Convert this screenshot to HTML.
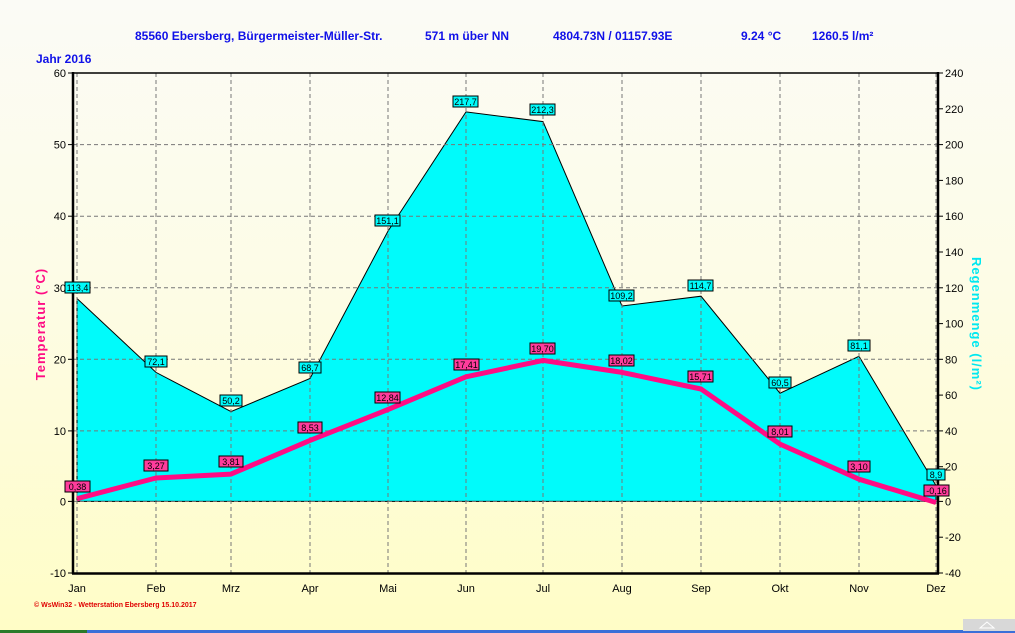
<!DOCTYPE html>
<html><head><meta charset="utf-8"><style>
html,body{margin:0;padding:0;width:1015px;height:633px;overflow:hidden;background:#fffdd0}
svg{display:block;font-family:"Liberation Sans",sans-serif}
</style></head><body>
<svg width="1015" height="633" viewBox="0 0 1015 633">
<defs>
<linearGradient id="bg" x1="0" y1="0" x2="0" y2="1">
<stop offset="0" stop-color="#fbfbf6"/><stop offset="0.45" stop-color="#fdfce6"/><stop offset="1" stop-color="#fffdc6"/>
</linearGradient>
</defs>
<rect width="1015" height="633" fill="url(#bg)"/>
<rect x="0" y="630" width="1015" height="3" fill="#3a6fd8"/>
<rect x="0" y="630" width="87" height="3" fill="#2a7a2a"/>
<rect x="963" y="619" width="52" height="12" fill="#d8d8d8"/>
<polygon points="980,628 987,622 994,628" fill="none" stroke="#fff"/>
<g font-weight="bold" font-size="12" fill="#1010e8">
<text x="135" y="40">85560 Ebersberg, Bürgermeister-Müller-Str.</text>
<text x="425" y="40">571 m über NN</text>
<text x="553" y="40">4804.73N / 01157.93E</text>
<text x="741" y="40">9.24 °C</text>
<text x="812" y="40">1260.5 l/m²</text>
<text x="36" y="63">Jahr  2016</text>
</g>
<!-- rain area -->
<polygon fill="#00fbfb" stroke="#000" stroke-width="1" points="77,501.4 77,298.5 156,372.4 231,411.6 310,378.5 388,231.1 466,111.9 543,121.6 622,306 701,296.2 780,393.2 859,356.3 936,485.5 936,501.4"/>
<!-- grid -->
<g stroke="#777" stroke-dasharray="4,3" stroke-width="1">
<line x1="77" y1="73" x2="77" y2="573"/><line x1="156" y1="73" x2="156" y2="573"/><line x1="231" y1="73" x2="231" y2="573"/><line x1="310" y1="73" x2="310" y2="573"/><line x1="388" y1="73" x2="388" y2="573"/><line x1="466" y1="73" x2="466" y2="573"/><line x1="543" y1="73" x2="543" y2="573"/><line x1="622" y1="73" x2="622" y2="573"/><line x1="701" y1="73" x2="701" y2="573"/><line x1="780" y1="73" x2="780" y2="573"/><line x1="859" y1="73" x2="859" y2="573"/><line x1="936" y1="73" x2="936" y2="573"/>
<line x1="73" y1="144.6" x2="938" y2="144.6"/><line x1="73" y1="216.2" x2="938" y2="216.2"/><line x1="73" y1="287.8" x2="938" y2="287.8"/><line x1="73" y1="359.3" x2="938" y2="359.3"/><line x1="73" y1="430.9" x2="938" y2="430.9"/><line x1="73" y1="501.4" x2="938" y2="501.4"/>
</g>
<!-- temperature line -->
<polyline fill="none" stroke="#ff0c84" stroke-width="5" stroke-linejoin="round" points="77,498.7 156,478 231,474.1 310,440.4 388,409.5 466,376.8 543,360.4 622,372.4 701,389 780,444.1 859,479.2 936,502.5"/>
<!-- frame -->
<line x1="73" y1="73" x2="938" y2="73" stroke="#000" stroke-width="1.5"/>
<line x1="73" y1="72" x2="73" y2="574" stroke="#000" stroke-width="2.5"/>
<line x1="72" y1="573.5" x2="939" y2="573.5" stroke="#000" stroke-width="2.5"/>
<line x1="938" y1="72" x2="938" y2="574" stroke="#000" stroke-width="2.5"/>
<g stroke="#000" stroke-width="1">
<line x1="68" y1="73" x2="73" y2="73"/><line x1="68" y1="144.6" x2="73" y2="144.6"/><line x1="68" y1="216.2" x2="73" y2="216.2"/><line x1="68" y1="287.8" x2="73" y2="287.8"/><line x1="68" y1="359.3" x2="73" y2="359.3"/><line x1="68" y1="430.9" x2="73" y2="430.9"/><line x1="68" y1="501.4" x2="73" y2="501.4"/><line x1="68" y1="573" x2="73" y2="573"/>
<line x1="938" y1="73" x2="943" y2="73"/><line x1="938" y1="108.8" x2="943" y2="108.8"/><line x1="938" y1="144.6" x2="943" y2="144.6"/><line x1="938" y1="180.4" x2="943" y2="180.4"/><line x1="938" y1="216.2" x2="943" y2="216.2"/><line x1="938" y1="252" x2="943" y2="252"/><line x1="938" y1="287.8" x2="943" y2="287.8"/><line x1="938" y1="323.6" x2="943" y2="323.6"/><line x1="938" y1="359.3" x2="943" y2="359.3"/><line x1="938" y1="395.1" x2="943" y2="395.1"/><line x1="938" y1="430.9" x2="943" y2="430.9"/><line x1="938" y1="466.7" x2="943" y2="466.7"/><line x1="938" y1="501.4" x2="943" y2="501.4"/><line x1="938" y1="537.2" x2="943" y2="537.2"/><line x1="938" y1="573" x2="943" y2="573"/>
</g>
<g font-size="11" fill="#000" text-anchor="end">
<text x="66" y="77">60</text><text x="66" y="148.6">50</text><text x="66" y="220.2">40</text><text x="66" y="291.8">30</text><text x="66" y="363.3">20</text><text x="66" y="434.9">10</text><text x="66" y="505.4">0</text><text x="66" y="577">-10</text>
</g>
<g font-size="11" fill="#000">
<text x="945" y="77">240</text><text x="945" y="112.8">220</text><text x="945" y="148.6">200</text><text x="945" y="184.4">180</text><text x="945" y="220.2">160</text><text x="945" y="256">140</text><text x="945" y="291.8">120</text><text x="945" y="327.6">100</text><text x="945" y="363.3">80</text><text x="945" y="399.1">60</text><text x="945" y="434.9">40</text><text x="945" y="470.7">20</text><text x="945" y="505.4">0</text><text x="945" y="541.2">-20</text><text x="945" y="577">-40</text>
</g>
<g font-size="11" fill="#000" text-anchor="middle">
<text x="77" y="592">Jan</text><text x="156" y="592">Feb</text><text x="231" y="592">Mrz</text><text x="310" y="592">Apr</text><text x="388" y="592">Mai</text><text x="466" y="592">Jun</text><text x="543" y="592">Jul</text><text x="622" y="592">Aug</text><text x="701" y="592">Sep</text><text x="780" y="592">Okt</text><text x="859" y="592">Nov</text><text x="936" y="592">Dez</text>
</g>
<text x="34" y="607" font-size="7" font-weight="bold" fill="#e00000">© WsWin32  -  Wetterstation Ebersberg  15.10.2017</text>
<text transform="translate(45,324) rotate(-90)" text-anchor="middle" font-size="13" font-weight="bold" fill="#ff0c84" letter-spacing="1">Temperatur  (°C)</text>
<text transform="translate(972,324) rotate(90)" text-anchor="middle" font-size="13" font-weight="bold" fill="#00e8f0" letter-spacing="1">Regenmenge  (l/m²)</text>
<!-- rain labels -->
<g font-size="9" text-anchor="middle">
<g fill="#00fbfb" stroke="#000" stroke-width="1">
<rect x="65" y="282" width="25" height="11"/><rect x="145" y="356" width="22" height="11"/><rect x="220" y="395" width="22" height="11"/><rect x="299" y="362" width="22" height="11"/><rect x="375" y="215" width="25" height="11"/><rect x="453" y="96" width="25" height="11"/><rect x="530" y="104" width="25" height="11"/><rect x="609" y="290" width="25" height="11"/><rect x="688" y="280" width="25" height="11"/><rect x="769" y="377" width="22" height="11"/><rect x="848" y="340" width="22" height="11"/><rect x="927" y="469" width="18" height="11"/>
</g>
<text x="77.5" y="291">113,4</text><text x="156" y="365">72,1</text><text x="231" y="404">50,2</text><text x="310" y="371">68,7</text><text x="387.5" y="224">151,1</text><text x="465.5" y="105">217,7</text><text x="542.5" y="113">212,3</text><text x="621.5" y="299">109,2</text><text x="700.5" y="289">114,7</text><text x="780" y="386">60,5</text><text x="859" y="349">81,1</text><text x="936" y="478">8,9</text>
</g>
<!-- temp labels -->
<g font-size="9" text-anchor="middle">
<g fill="#ff3c9c" stroke="#000" stroke-width="1">
<rect x="65" y="481" width="25" height="11"/><rect x="144" y="460" width="24" height="11"/><rect x="219" y="456" width="24" height="11"/><rect x="298" y="422" width="24" height="11"/><rect x="375" y="392" width="25" height="11"/><rect x="454" y="359" width="25" height="11"/><rect x="530" y="343" width="25" height="11"/><rect x="609" y="355" width="25" height="11"/><rect x="688" y="371" width="25" height="11"/><rect x="768" y="426" width="24" height="11"/><rect x="848" y="461" width="22" height="11"/><rect x="924" y="485" width="25" height="11"/>
</g>
<text x="77.5" y="490">0,38</text><text x="156" y="469">3,27</text><text x="231" y="465">3,81</text><text x="310" y="431">8,53</text><text x="387.5" y="401">12,84</text><text x="466.5" y="368">17,41</text><text x="542.5" y="352">19,70</text><text x="621.5" y="364">18,02</text><text x="700.5" y="380">15,71</text><text x="780" y="435">8,01</text><text x="859" y="470">3,10</text><text x="936.5" y="494">-0,16</text>
</g>
</svg>
</body></html>
